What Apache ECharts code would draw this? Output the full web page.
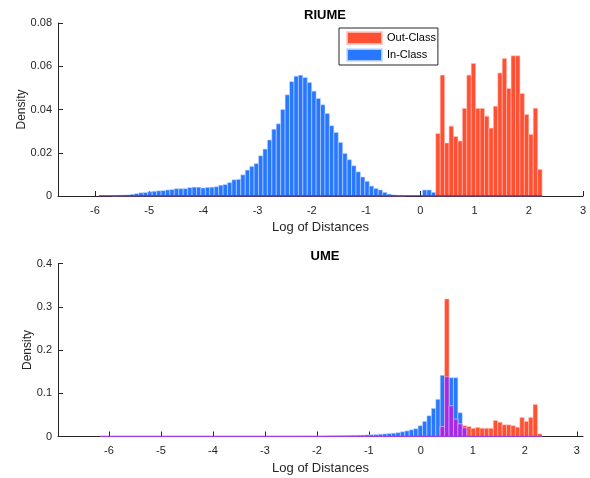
<!DOCTYPE html>
<html>
<head>
<meta charset="utf-8">
<script src="https://cdn.jsdelivr.net/npm/echarts@6/dist/echarts.min.js"></script>
<style>
  html, body { margin: 0; padding: 0; background: #fff; }
  #chart { width: 590px; height: 478px; }
</style>
</head>
<body>
<div id="chart"></div>
<script>
// histogram bins (same 100 bins for both classes in each panel)
var riumeBinStart = -5.924;
var riumeBinWidth = 0.0817;
var umeBinStart = -6.18;
var umeBinWidth = 0.0851;

var xTicks = [-6, -5, -4, -3, -2, -1, 0, 1, 2, 3];

// RIUME densities
var riumeIn = [
  0, 0, 0, 0.0001, 0.0002, 0.0004, 0.0005, 0.0008, 0.0011, 0.0015,
  0.0016, 0.0020, 0.0022, 0.0024, 0.0025, 0.0028, 0.0030, 0.0034, 0.0034, 0.0034,
  0.0039, 0.0041, 0.0041, 0.0037, 0.0040, 0.0041, 0.0043, 0.0050, 0.0053, 0.0062,
  0.0075, 0.0077, 0.0098, 0.0120, 0.0137, 0.0150, 0.0186, 0.0217, 0.0259, 0.0309,
  0.0334, 0.0400, 0.0468, 0.0529, 0.0554, 0.0559, 0.0548, 0.0525, 0.0485, 0.0451,
  0.0422, 0.0382, 0.0325, 0.0294, 0.0248, 0.0197, 0.0168, 0.0140, 0.0112, 0.0088,
  0.0068, 0.0046, 0.0035, 0.0028, 0.0017, 0.0009, 0.0005, 0.0002, 0.0001, 0,
  0, 0, 0, 0.0028, 0.0028, 0.0017, 0, 0, 0, 0,
  0, 0, 0, 0, 0, 0, 0, 0, 0, 0,
  0, 0, 0, 0, 0, 0, 0, 0, 0, 0
];
var riumeOut = [
  0, 0, 0, 0, 0, 0, 0, 0, 0, 0,
  0, 0, 0, 0, 0, 0, 0, 0, 0, 0,
  0, 0, 0, 0, 0, 0, 0, 0, 0, 0,
  0, 0, 0, 0, 0, 0, 0, 0, 0, 0,
  0, 0, 0, 0, 0, 0, 0, 0, 0, 0,
  0, 0, 0, 0, 0, 0, 0, 0, 0, 0,
  0, 0, 0, 0, 0, 0, 0, 0, 0, 0,
  0, 0, 0, 0, 0, 0, 0.0289, 0.0559, 0.0245, 0.0323,
  0.0275, 0.0254, 0.0405, 0.0559, 0.0613, 0.0405, 0.0405, 0.0369, 0.0314, 0.0415,
  0.0569, 0.0636, 0.0497, 0.0648, 0.0648, 0.0474, 0.0377, 0.0285, 0.0406, 0.0123
];

// UME densities
var umeIn = [
  0, 0, 0, 0, 0, 0, 0, 0, 0, 0,
  0, 0, 0, 0, 0, 0, 0, 0, 0, 0,
  0, 0, 0, 0, 0, 0, 0, 0, 0, 0,
  0, 0, 0, 0, 0, 0, 0, 0, 0, 0,
  0.0003, 0.0003, 0.0004, 0.0004, 0.0005, 0.0006, 0.0007, 0.0008, 0.0009, 0.0010,
  0.0012, 0.0014, 0.0016, 0.0018, 0.0020, 0.0022, 0.0025, 0.0028, 0.0030, 0.0033,
  0.0037, 0.0040, 0.0045, 0.0054, 0.0060, 0.0070, 0.0077, 0.0090, 0.0110, 0.0130,
  0.0154, 0.0180, 0.0250, 0.0350, 0.0480, 0.0650, 0.0860, 0.1415, 0.1380, 0.1360,
  0.1360, 0.0550, 0.0200, 0, 0, 0, 0, 0, 0, 0,
  0, 0, 0, 0, 0, 0, 0, 0, 0, 0
];
var umeOut = [
  0, 0, 0, 0, 0, 0, 0, 0, 0, 0,
  0, 0, 0, 0, 0, 0, 0, 0, 0, 0,
  0, 0, 0, 0, 0, 0, 0, 0, 0, 0,
  0, 0, 0, 0, 0, 0, 0, 0, 0, 0,
  0, 0, 0, 0, 0, 0, 0, 0, 0, 0,
  0, 0, 0, 0, 0, 0, 0, 0, 0, 0,
  0, 0, 0, 0, 0, 0, 0, 0, 0, 0,
  0, 0, 0, 0, 0, 0, 0, 0.0230, 0.3180, 0.0710,
  0.0400, 0.0290, 0.0250, 0.0230, 0.0190, 0.0210, 0.0190, 0.0190, 0.0190, 0.0370,
  0.0330, 0.0270, 0.0270, 0.0250, 0.0215, 0.0440, 0.0350, 0.0440, 0.0740, 0.0060
];

var BLUE = '#2878ff';
var RED = '#ff5033';
var PURPLE = '#a52ae6';
var INK = '#262626';
var FONT = '"Liberation Sans", Arial, Helvetica, sans-serif';

function toBins(start, width, values) {
  var out = [];
  values.forEach(function (v, i) {
    if (v > 0) out.push([start + i * width, start + (i + 1) * width, v]);
  });
  return out;
}

function overlap(a, b) {
  return a.map(function (v, i) { return Math.min(v, b[i]); });
}

function renderBar(params, api) {
  var p0 = api.coord([api.value(0), api.value(2)]);
  var p1 = api.coord([api.value(1), 0]);
  return {
    type: 'rect',
    shape: { x: p0[0], y: p0[1], width: p1[0] - p0[0], height: p1[1] - p0[1] },
    style: api.style()
  };
}

function histSeries(name, color, idx, data, edge) {
  return {
    name: name,
    type: 'custom',
    xAxisIndex: idx,
    yAxisIndex: idx,
    renderItem: renderBar,
    encode: { x: [0, 1], y: 2 },
    itemStyle: { color: color, borderColor: edge, borderWidth: 0.7 },
    silent: true,
    data: data
  };
}

function baseline(idx, start, width, n, color) {
  return {
    type: 'line',
    xAxisIndex: idx,
    yAxisIndex: idx,
    symbol: 'none',
    silent: true,
    lineStyle: { color: color, width: 1.6 },
    data: [[start, 0], [start + n * width, 0]],
    z: 5
  };
}

function xAxisCfg(idx, min, max) {
  return {
    gridIndex: idx,
    type: 'value',
    min: min,
    max: max,
    name: 'Log of Distances',
    nameLocation: 'middle',
    nameGap: 25,
    nameTextStyle: { fontSize: 13, color: INK, fontFamily: FONT },
    axisLine: { onZero: false, lineStyle: { color: INK, width: 1 } },
    axisTick: { inside: true, length: 5, customValues: xTicks, lineStyle: { color: INK } },
    axisLabel: { customValues: xTicks, fontSize: 11, color: INK, fontFamily: FONT, margin: 9 },
    splitLine: { show: false }
  };
}

function yAxisCfg(idx, max, interval, gap) {
  return {
    gridIndex: idx,
    type: 'value',
    min: 0,
    max: max,
    interval: interval,
    name: 'Density',
    nameLocation: 'middle',
    nameGap: gap,
    nameMoveOverlap: false,
    nameTextStyle: { fontSize: 12, color: INK, fontFamily: FONT },
    axisLine: { show: true, onZero: false, lineStyle: { color: INK, width: 1 } },
    axisTick: { show: true, inside: true, length: 5, lineStyle: { color: INK } },
    axisLabel: { fontSize: 11, color: INK, fontFamily: FONT, margin: 6 },
    splitLine: { show: false }
  };
}

var chart = echarts.init(document.getElementById('chart'));
chart.setOption({
  animation: false,
  backgroundColor: '#fff',
  title: [
    { text: 'RIUME', left: 320, top: 4, textAlign: 'center',
      textStyle: { fontSize: 13, fontWeight: 'bold', color: '#000', fontFamily: FONT } },
    { text: 'UME', left: 320, top: 245, textAlign: 'center',
      textStyle: { fontSize: 13, fontWeight: 'bold', color: '#000', fontFamily: FONT } }
  ],
  legend: {
    data: ['Out-Class', 'In-Class'],
    orient: 'vertical',
    left: 339,
    top: 28,
    padding: [3, 2, 3, 7],
    itemWidth: 35,
    itemHeight: 12,
    itemGap: 3,
    icon: 'rect',
    borderColor: INK,
    borderWidth: 1,
    backgroundColor: '#fff',
    textStyle: { fontSize: 11, color: '#000', fontFamily: FONT },
    selectedMode: false
  },
  grid: [
    { left: 58, right: 7, top: 23, height: 173 },
    { left: 58, right: 7, top: 263.5, height: 173 }
  ],
  xAxis: [xAxisCfg(0, -6.68, 3), xAxisCfg(1, -6.98, 3.12)],
  yAxis: [yAxisCfg(0, 0.08, 0.02, 30), yAxisCfg(1, 0.4, 0.1, 24)],
  series: [
    histSeries('In-Class', BLUE, 0, toBins(riumeBinStart, riumeBinWidth, riumeIn), 'rgba(200,220,255,0.8)'),
    histSeries('Out-Class', RED, 0, toBins(riumeBinStart, riumeBinWidth, riumeOut), 'rgba(255,200,190,0.8)'),
    histSeries('overlap', PURPLE, 0, toBins(riumeBinStart, riumeBinWidth, overlap(riumeIn, riumeOut)), 'rgba(220,190,255,0.8)'),
    baseline(0, riumeBinStart, riumeBinWidth, riumeIn.length, '#5e2a8c'),
    histSeries('In-Class', BLUE, 1, toBins(umeBinStart, umeBinWidth, umeIn), 'rgba(200,220,255,0.8)'),
    histSeries('Out-Class', RED, 1, toBins(umeBinStart, umeBinWidth, umeOut), 'rgba(255,200,190,0.8)'),
    histSeries('overlap', PURPLE, 1, toBins(umeBinStart, umeBinWidth, overlap(umeIn, umeOut)), 'rgba(220,190,255,0.8)'),
    baseline(1, umeBinStart, umeBinWidth, umeIn.length, '#9b3fd6')
  ]
});
</script>
</body>
</html>
